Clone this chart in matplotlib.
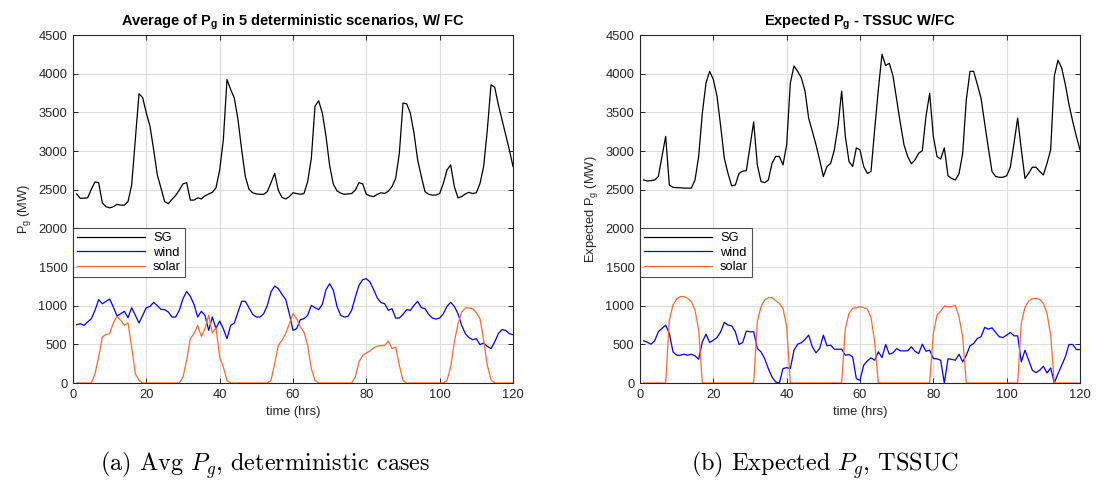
import numpy as np
import matplotlib
matplotlib.use("Agg")
import matplotlib.pyplot as plt

hours = np.arange(1, 121)

# Average of 5 deterministic scenarios (MW)
sg_det = [2445, 2387, 2390, 2395, 2505, 2600, 2590, 2330, 2280, 2265,
          2280, 2310, 2300, 2300, 2345, 2560, 3150, 3740, 3690, 3490,
          3320, 3015, 2690, 2520, 2345, 2320, 2375, 2425, 2495, 2575,
          2590, 2365, 2365, 2395, 2380, 2420, 2445, 2465, 2525, 2755,
          3145, 3925, 3795, 3685, 3405, 3015, 2670, 2505, 2460, 2445,
          2440, 2440, 2475, 2590, 2710, 2490, 2400, 2380, 2410, 2460,
          2450, 2440, 2450, 2605, 2905, 3580, 3650, 3490, 3190, 2810,
          2570, 2485, 2455, 2440, 2445, 2450, 2495, 2590, 2575, 2440,
          2420, 2410, 2440, 2460, 2450, 2480, 2540, 2645, 2970, 3620,
          3610, 3490, 3230, 2885, 2670, 2475, 2440, 2430, 2430, 2450,
          2580, 2755, 2820, 2540, 2395, 2410, 2445, 2465, 2450, 2460,
          2580, 2800, 3275, 3855, 3825, 3600, 3405, 3210, 3015, 2800]
wind_det = [754, 767, 745, 790, 832, 940, 1078, 1025, 1056, 1086,
            983, 866, 896, 927, 845, 974, 875, 776, 875, 974,
            991, 1043, 1000, 952, 948, 918, 853, 853, 940, 1090,
            1185, 1120, 1017, 853, 927, 875, 681, 853, 703, 802,
            703, 573, 746, 776, 918, 1056, 1056, 974, 888, 853,
            853, 896, 1004, 1177, 1254, 1220, 1146, 1082, 896, 681,
            703, 819, 832, 875, 1004, 974, 948, 1017, 1207, 1284,
            1198, 990, 875, 853, 862, 940, 1112, 1263, 1336, 1349,
            1306, 1207, 1099, 1039, 1025, 940, 961, 840, 840, 888,
            948, 940, 1004, 1056, 974, 961, 888, 840, 827, 840,
            896, 991, 1043, 991, 896, 746, 638, 586, 560, 573,
            496, 517, 474, 444, 530, 638, 690, 681, 638, 625]
solar_det = [0, 0, 0, 0, 0, 120, 336, 595, 629, 638,
             776, 862, 810, 746, 776, 465, 120, 34, 0, 0,
             0, 0, 0, 0, 0, 0, 0, 0, 0, 78,
             293, 573, 638, 746, 603, 703, 875, 646, 715, 336,
             207, 34, 0, 0, 0, 0, 0, 0, 0, 0,
             0, 0, 0, 34, 250, 487, 552, 638, 767, 896,
             832, 724, 659, 487, 185, 34, 0, 0, 0, 0,
             0, 0, 0, 0, 0, 0, 78, 272, 358, 388,
             414, 453, 478, 483, 487, 543, 444, 465, 228, 34,
             0, 0, 0, 0, 0, 0, 0, 0, 0, 0,
             0, 34, 207, 530, 767, 918, 970, 970, 961, 909,
             832, 552, 228, 43, 0, 0, 0, 0, 0, 0]

# Expected values, two-stage stochastic UC (MW)
sg_exp = [2625, 2612, 2617, 2625, 2670, 2930, 3190, 2560, 2530, 2525,
          2525, 2520, 2520, 2520, 2625, 2930, 3490, 3880, 4030, 3925,
          3710, 3320, 2905, 2710, 2550, 2560, 2710, 2740, 2745, 3060,
          3375, 2820, 2605, 2590, 2625, 2840, 2930, 2930, 2820, 3080,
          3880, 4100, 4030, 3945, 3775, 3425, 3255, 3080, 2885, 2670,
          2800, 2840, 3015, 3320, 3775, 3190, 2865, 2800, 3040, 3015,
          2800, 2710, 2735, 3275, 3795, 4250, 4105, 4135, 3970, 3665,
          3360, 3080, 2930, 2835, 2885, 2970, 3005, 3450, 3745, 3190,
          2930, 2895, 3040, 2680, 2645, 2625, 2705, 2970, 3665, 4030,
          4030, 3860, 3685, 3360, 3040, 2735, 2670, 2660, 2660, 2680,
          2790, 3100, 3425, 3015, 2645, 2710, 2790, 2790, 2735, 2690,
          2840, 3015, 3970, 4175, 4075, 3860, 3600, 3385, 3190, 3015]
wind_exp = [545, 528, 502, 545, 662, 706, 749, 641, 403, 359,
            359, 372, 359, 372, 351, 307, 532, 632, 524, 554,
            589, 662, 784, 749, 740, 662, 498, 524, 671, 662,
            662, 446, 403, 316, 186, 78, 13, 0, 186, 199,
            186, 424, 502, 520, 563, 619, 468, 390, 446, 619,
            481, 489, 437, 437, 437, 359, 368, 338, 56, 35,
            229, 286, 325, 294, 403, 329, 498, 372, 390, 446,
            416, 416, 416, 468, 411, 381, 502, 411, 424, 316,
            312, 294, 0, 312, 307, 294, 372, 273, 359, 481,
            511, 576, 597, 719, 697, 714, 654, 597, 589, 619,
            654, 610, 610, 273, 424, 294, 165, 134, 165, 216,
            130, 195, 0, 121, 229, 338, 498, 498, 433, 433]
solar_exp = [0, 0, 0, 0, 0, 0, 0, 814, 1009, 1087,
             1117, 1117, 1095, 1052, 944, 684, 0, 0, 0, 0,
             0, 0, 0, 0, 0, 0, 0, 0, 0, 0,
             0, 792, 987, 1074, 1104, 1104, 1065, 1030, 965, 727,
             0, 0, 0, 0, 0, 0, 0, 0, 0, 0,
             0, 0, 0, 0, 0, 706, 900, 965, 974, 987,
             974, 957, 848, 532, 0, 0, 0, 0, 0, 0,
             0, 0, 0, 0, 0, 0, 0, 0, 0, 641,
             879, 931, 996, 987, 987, 1004, 857, 597, 0, 0,
             0, 0, 0, 0, 0, 0, 0, 0, 0, 0,
             0, 0, 0, 779, 978, 1061, 1091, 1095, 1082, 1030,
             900, 619, 0, 0, 0, 0, 0, 0, 0, 0]

series_names = ["SG", "wind", "solar"]
series_colors = ["#000000", "#0000ff", "#ff6a2c"]

plt.rcParams["font.family"] = ["Liberation Sans", "DejaVu Sans"]
plt.rcParams["mathtext.fontset"] = "custom"
plt.rcParams["mathtext.rm"] = "Liberation Sans"
plt.rcParams["mathtext.it"] = "Liberation Sans:italic"
plt.rcParams["mathtext.bf"] = "Liberation Sans:bold"

fig = plt.figure(figsize=(10.97, 4.93), dpi=100)
W, H = 1097, 493
ax_l = fig.add_axes([73 / W, 1 - 383 / H, 440 / W, 348 / H])
ax_r = fig.add_axes([640 / W, 1 - 383 / H, 440 / W, 348 / H])

panels = [
    (ax_l, [sg_det, wind_det, solar_det],
     r"Average of P$_\mathbf{g}$ in 5 deterministic scenarios, W/ FC", r"P$_\mathregular{g}$ (MW)"),
    (ax_r, [sg_exp, wind_exp, solar_exp],
     r"Expected P$_\mathbf{g}$ - TSSUC W/FC", r"Expected P$_\mathregular{g}$ (MW)"),
]

spine_col = "#262626"
for ax, data, title, ylabel in panels:
    for vals, name, col in zip(data, series_names, series_colors):
        ax.plot(hours, vals, color=col, lw=0.9, label=name)
    ax.set_xlim(0, 120)
    ax.set_ylim(0, 4500)
    ax.set_xticks(np.arange(0, 121, 20))
    ax.set_yticks(np.arange(0, 4501, 500))
    ax.grid(True, color="#dedede", lw=0.8)
    ax.set_axisbelow(True)
    ax.tick_params(direction="in", top=True, right=True, length=3.5,
                   width=0.7, labelsize=9.3, colors=spine_col, pad=4)
    for s in ax.spines.values():
        s.set_color(spine_col)
        s.set_linewidth(0.8)
    ax.set_title(title, fontsize=10.5, fontweight="bold", pad=7)
    ax.set_xlabel("time (hrs)", fontsize=9.3, color=spine_col)
    ax.set_ylabel(ylabel, fontsize=9.3, color=spine_col)
    leg = ax.legend(loc="upper left", bbox_to_anchor=(0, 0.445),
                    borderaxespad=0, fontsize=9.3, frameon=True, fancybox=False,
                    handlelength=5.3, handletextpad=0.6, labelspacing=0.2,
                    borderpad=0.3)
    leg.get_frame().set_edgecolor(spine_col)
    leg.get_frame().set_linewidth(0.8)

cap_props = dict(fontsize=17.5, ha="center", va="center",
                 family="cmr10", math_fontfamily="cm")
fig.text(265 / W, 1 - 465 / H, r"(a) Avg $P_g$, deterministic cases", **cap_props)
fig.text(825 / W, 1 - 465 / H, r"(b) Expected $P_g$, TSSUC", **cap_props)

fig.savefig("out.png", dpi=100)
